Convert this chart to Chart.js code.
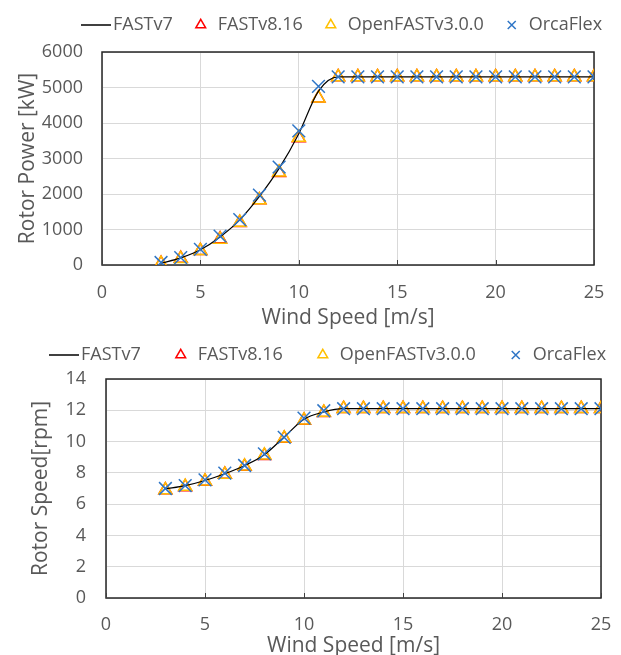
<!DOCTYPE html>
<html>
<head>
<meta charset="utf-8">
<script src="https://cdn.jsdelivr.net/npm/chart.js@4/dist/chart.umd.min.js"></script>
<style>
  html, body { margin: 0; padding: 0; background: #fff; overflow: hidden; }
  canvas { display: block; }
</style>
</head>
<body>
<canvas id="powerChart" width="621" height="331"></canvas>
<canvas id="speedChart" width="621" height="328"></canvas>
<script>
// wind speeds [m/s]
const windSpeeds = [3, 4, 5, 6, 7, 8, 9, 10, 11, 12, 13, 14, 15, 16, 17, 18, 19, 20, 21, 22, 23, 24, 25];
const seriesNames = ['FASTv7', 'FASTv8.16', 'OpenFASTv3.0.0', 'OrcaFlex'];

// rotor power [kW]
const powerFast7 = [50, 200, 430, 790, 1270, 1930, 2720, 3700, 4900, 5300, 5300, 5300, 5300, 5300, 5300, 5300, 5300, 5300, 5300, 5300, 5300, 5300, 5300];
const powerFast8 = [40, 180, 400, 730, 1190, 1830, 2600, 3580, 4700, 5296, 5296, 5296, 5296, 5296, 5296, 5296, 5296, 5296, 5296, 5296, 5296, 5296, 5296];
const powerOpenFast = [40, 175, 400, 720, 1200, 1830, 2610, 3590, 4700, 5296, 5296, 5296, 5296, 5296, 5296, 5296, 5296, 5296, 5296, 5296, 5296, 5296, 5296];
const powerOrca = [70, 210, 440, 815, 1280, 1970, 2760, 3780, 5030, 5300, 5300, 5300, 5300, 5300, 5300, 5300, 5300, 5300, 5300, 5300, 5300, 5300, 5300];

// rotor speed [rpm]
const rpmFast7 = [6.97, 7.18, 7.51, 7.94, 8.47, 9.16, 10.29, 11.43, 11.89, 12.1, 12.1, 12.1, 12.1, 12.1, 12.1, 12.1, 12.1, 12.1, 12.1, 12.1, 12.1, 12.1, 12.1];
const rpmFast8 = [6.9, 7.1, 7.45, 7.9, 8.4, 9.1, 10.2, 11.35, 11.85, 12.1, 12.1, 12.1, 12.1, 12.1, 12.1, 12.1, 12.1, 12.1, 12.1, 12.1, 12.1, 12.1, 12.1];
const rpmOpenFast = [6.9, 7.12, 7.47, 7.9, 8.42, 9.12, 10.22, 11.37, 11.86, 12.1, 12.1, 12.1, 12.1, 12.1, 12.1, 12.1, 12.1, 12.1, 12.1, 12.1, 12.1, 12.1, 12.1];
const rpmOrca = [7.0, 7.19, 7.55, 7.98, 8.47, 9.21, 10.27, 11.5, 11.97, 12.1, 12.1, 12.1, 12.1, 12.1, 12.1, 12.1, 12.1, 12.1, 12.1, 12.1, 12.1, 12.1, 12.1];

const FONT = "'Open Sans', sans-serif";
const TEXT_COLOR = '#595959';

// legend symbol for the FASTv7 line (a short stroke)
const lineSymbol = document.createElement('canvas');
lineSymbol.width = 30;
lineSymbol.height = 2;
const lctx = lineSymbol.getContext('2d');
lctx.fillStyle = '#404040';
lctx.fillRect(0, 0, 30, 2);

// frame round the plot area + small inward tick marks on the x axis
const frame = {
  id: 'frame',
  beforeDatasetsDraw(chart) {
    const { ctx, chartArea: a, scales } = chart;
    ctx.save();
    ctx.strokeStyle = '#262626';
    ctx.lineWidth = 1.5;
    ctx.strokeRect(a.left, a.top, a.right - a.left, a.bottom - a.top);
    ctx.lineWidth = 1;
    ctx.strokeStyle = '#404040';
    scales.x.ticks.forEach(t => {
      const px = Math.round(scales.x.getPixelForValue(t.value)) + 0.5;
      ctx.beginPath();
      ctx.moveTo(px, a.bottom);
      ctx.lineTo(px, a.bottom - 5);
      ctx.stroke();
    });
    ctx.restore();
  }
};

// fixed legend block height, then move the legend row where it sits in the picture
const legendPlace = {
  id: 'legendPlace',
  beforeInit(chart, args, opts) {
    const legend = chart.legend;
    const fit = legend.fit;
    legend.fit = function () {
      fit.call(this);
      this.height = opts.height;
    };
  },
  afterLayout(chart, args, opts) {
    const legend = chart.legend;
    const w = legend.right - legend.left;
    legend.left = opts.left;
    legend.right = opts.left + w;
    legend.top = opts.top;
  }
};

function toXY(values) {
  return values.map((v, i) => ({ x: windSpeeds[i], y: v }));
}

function buildDatasets(a, b, c, d) {
  return [
    { label: seriesNames[0], data: toXY(a), borderColor: '#000', borderWidth: 1.2, pointRadius: 0,
      pointStyle: lineSymbol, cubicInterpolationMode: 'monotone', order: 2 },
    { label: seriesNames[1], data: toXY(b), showLine: false, pointStyle: 'triangle', pointRadius: 7.5,
      borderColor: '#FF0000', backgroundColor: 'rgba(0,0,0,0)', pointBorderWidth: 1.5, order: 4 },
    { label: seriesNames[2], data: toXY(c), showLine: false, pointStyle: 'triangle', pointRadius: 7.5,
      borderColor: '#FFC000', backgroundColor: 'rgba(0,0,0,0)', pointBorderWidth: 1.5, order: 3 },
    { label: seriesNames[3], data: toXY(d), showLine: false, pointStyle: 'crossRot', pointRadius: 9,
      borderColor: '#2E75C6', backgroundColor: 'rgba(0,0,0,0)', pointBorderWidth: 1.5, order: 1 }
  ];
}

function makeChart(id, datasets, cfg) {
  return new Chart(document.getElementById(id), {
    type: 'line',
    data: { datasets },
    options: {
      responsive: false,
      animation: false,
      layout: { padding: 0 },
      plugins: {
        legend: {
          position: 'top',
          align: 'start',
          labels: {
            usePointStyle: true,
            boxWidth: 16,
            boxHeight: 8,
            padding: cfg.legendPad,
            color: TEXT_COLOR,
            font: { family: FONT, size: 18 },
            sort: (a, b) => a.datasetIndex - b.datasetIndex
          }
        },
        legendPlace: { height: cfg.legendHeight, left: cfg.legendLeft, top: cfg.legendTop },
        tooltip: { enabled: false }
      },
      scales: {
        x: {
          type: 'linear',
          min: 0, max: 25,
          ticks: { stepSize: 5, color: TEXT_COLOR, font: { family: FONT, size: 18 }, padding: 2 },
          grid: { color: '#D9D9D9', drawTicks: true, tickLength: cfg.xTickGap, tickColor: 'rgba(0,0,0,0)' },
          border: { display: false },
          title: { display: true, text: 'Wind Speed [m/s]', color: TEXT_COLOR, font: { family: FONT, size: 21 },
            padding: { top: 0, bottom: 0 } },
          afterFit(scale) { scale.height = cfg.xAxisHeight; }
        },
        y: {
          min: 0, max: cfg.yMax,
          ticks: { stepSize: cfg.yStep, color: TEXT_COLOR, font: { family: FONT, size: 18 }, padding: cfg.yTickPad,
            callback: v => String(v) },
          grid: { color: '#D9D9D9', drawTicks: false },
          border: { display: false },
          title: { display: true, text: cfg.yTitle, color: TEXT_COLOR, font: { family: FONT, size: 21 },
            padding: { top: cfg.yTitleLeft, bottom: 0 } },
          afterFit(scale) { scale.width = cfg.yAxisWidth; }
        },
        y2: {
          position: 'right',
          display: true,
          min: 0, max: cfg.yMax,
          ticks: { display: false },
          grid: { display: false },
          border: { display: false },
          afterFit(scale) { scale.width = cfg.rightGap; }
        }
      }
    },
    plugins: [frame, legendPlace]
  });
}

makeChart('powerChart', buildDatasets(powerFast7, powerFast8, powerOpenFast, powerOrca), {
  yTitle: 'Rotor Power [kW]', yMax: 6000, yStep: 1000,
  legendPad: 20, legendHeight: 52, legendLeft: 68, legendTop: -4,
  yAxisWidth: 102, rightGap: 27, xAxisHeight: 66,
  xTickGap: 15, yTickPad: 19, yTitleLeft: 15
});
makeChart('speedChart', buildDatasets(rpmFast7, rpmFast8, rpmOpenFast, rpmOrca), {
  yTitle: 'Rotor Speed[rpm]', yMax: 14, yStep: 2,
  legendPad: 32, legendHeight: 48, legendLeft: 24, legendTop: -17,
  yAxisWidth: 106, rightGap: 20, xAxisHeight: 61,
  xTickGap: 14, yTickPad: 20, yTitleLeft: 28
});
</script>
</body>
</html>
